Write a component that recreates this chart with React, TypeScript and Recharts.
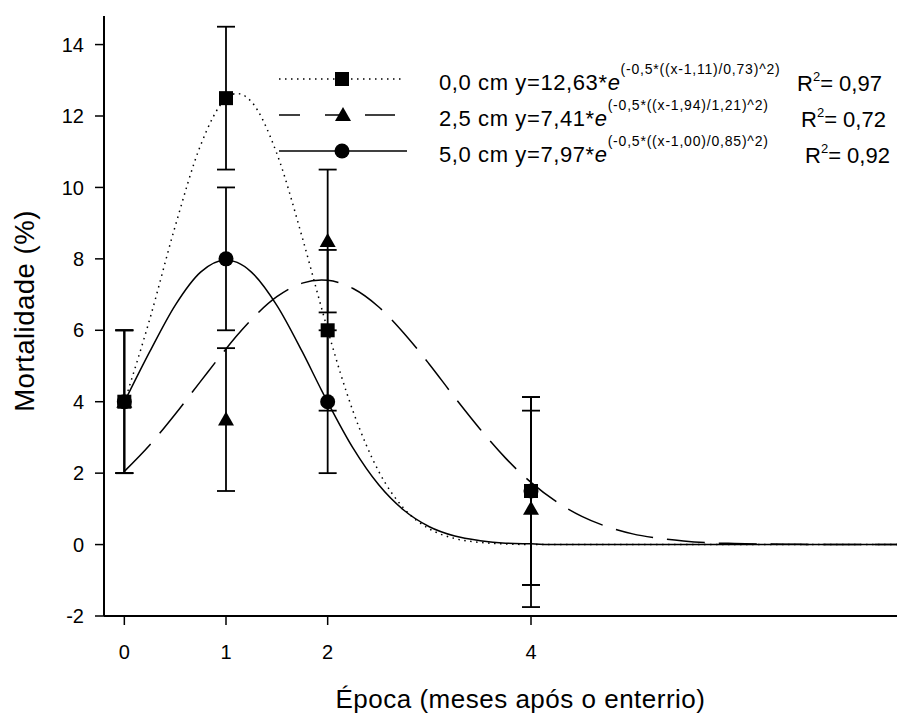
import React from 'react';
import { ComposedChart, Line, Scatter, XAxis, YAxis, ErrorBar } from 'recharts';

// épocas avaliadas (meses após o enterrio)
const epocas = [0, 1, 2, 4];

// mortalidade observada (%) e erro por profundidade
const mort00 = [4, 12.5, 6, 1.5];
const erro00 = [2, 2, 2.25, 2.63];
const mort25 = [4, 3.5, 8.5, 1];
const erro25 = [2, 2, 2, 2.75];
const mort50 = [4, 8, 4, 1.5];
const erro50 = [2, 2, 2, 2.63];

// curvas ajustadas
const curvaX = [0, 0.25, 0.5, 0.75, 1, 1.11, 1.25, 1.5, 1.75, 1.94, 2, 2.25, 2.5, 2.75, 3, 3.25, 3.5, 3.75, 4, 4.25, 4.5, 4.75, 5, 5.25, 5.5, 5.75, 6, 6.5, 7, 7.6];
const curva00 = [3.98, 6.31, 8.91, 11.18, 12.49, 12.63, 12.4, 10.95, 8.6, 6.62, 6.01, 3.73, 2.06, 1.01, 0.44, 0.17, 0.06, 0.02, 0, 0, 0, 0, 0, 0, 0, 0, 0, 0, 0, 0];
const curva25 = [2.05, 2.79, 3.65, 4.57, 5.48, 5.86, 6.3, 6.94, 7.32, 7.41, 7.4, 7.17, 6.66, 5.92, 5.05, 4.12, 3.23, 2.42, 1.74, 1.2, 0.79, 0.5, 0.3, 0.18, 0.1, 0.05, 0.03, 0.01, 0, 0];
const curva50 = [3.99, 5.4, 6.7, 7.63, 7.97, 7.9, 7.63, 6.7, 5.4, 4.32, 3.99, 2.7, 1.68, 0.96, 0.5, 0.24, 0.11, 0.04, 0.02, 0, 0, 0, 0, 0, 0, 0, 0, 0, 0, 0];

const xTicks = [0, 1, 2, 4];
const yTicks = [-2, 0, 2, 4, 6, 8, 10, 12, 14];

// legenda
const nomes = ['0,0 cm', '2,5 cm', '5,0 cm'];
const coefs = ['12,63', '7,41', '7,97'];
const expoentes = ['(-0,5*((x-1,11)/0,73)^2)', '(-0,5*((x-1,94)/1,21)^2)', '(-0,5*((x-1,00)/0,85)^2)'];
const r2 = ['0,97', '0,72', '0,92'];

const FONT = '"Liberation Sans", Arial, Helvetica, sans-serif';

const curveData = curvaX.map((x, i) => ({ x, a: curva00[i], b: curva25[i], c: curva50[i] }));
const pts = (m: number[], e: number[]) => epocas.map((x, i) => ({ x, y: m[i], err: e[i] }));

const Quadrado = (p: any) => <rect x={p.cx - 7} y={p.cy - 7} width={14} height={14} fill="#000" />;
const Circulo = (p: any) => <circle cx={p.cx} cy={p.cy} r={7.5} fill="#000" />;
const Triangulo = (p: any) => (
  <path d={`M${p.cx},${p.cy - 8} L${p.cx + 8},${p.cy + 6} L${p.cx - 8},${p.cy + 6} Z`} fill="#000" />
);

const Legenda = () => {
  const rows = [79, 115, 151];
  const r2x = [797, 801, 805];
  return (
    <svg width={897} height={200} style={{ position: 'absolute', left: 0, top: 0, pointerEvents: 'none' }}>
      {/* amostras de linha */}
      <line x1={279} y1={rows[0]} x2={405} y2={rows[0]} stroke="#000" strokeWidth={1.5} strokeDasharray="1.5 4.5" />
      <Quadrado cx={342} cy={rows[0]} />
      <line x1={279} y1={rows[1]} x2={300} y2={rows[1]} stroke="#000" strokeWidth={1.5} />
      <line x1={325} y1={rows[1]} x2={345} y2={rows[1]} stroke="#000" strokeWidth={1.5} />
      <line x1={365} y1={rows[1]} x2={395} y2={rows[1]} stroke="#000" strokeWidth={1.5} />
      <Triangulo cx={343} cy={rows[1]} />
      <line x1={279} y1={rows[2]} x2={407} y2={rows[2]} stroke="#000" strokeWidth={1.5} />
      <Circulo cx={342} cy={rows[2]} />
      {nomes.map((n, i) => (
        <g key={n} fontFamily={FONT} fill="#000">
          <text x={439} y={rows[i] + 11} fontSize={22} letterSpacing={0.6}>
            {n} y={coefs[i]}*<tspan fontStyle="italic">e</tspan>
            <tspan fontSize={14} dy={-16} letterSpacing={0.8}>{expoentes[i]}</tspan>
          </text>
          <text x={r2x[i]} y={rows[i] + 12} fontSize={22}>
            R<tspan fontSize={13} dy={-10}>2</tspan>
            <tspan dy={10}>= {r2[i]}</tspan>
          </text>
        </g>
      ))}
    </svg>
  );
};

export default function App() {
  const tick = { fill: '#000', fontSize: 20, fontFamily: FONT };
  return (
    <div style={{ position: 'absolute', left: 0, top: 0, width: 897, height: 717, background: '#fff' }}>
      <ComposedChart width={897} height={717} data={curveData} margin={{ top: 16, right: 0, left: 0, bottom: 0 }}>
        <XAxis
          dataKey="x"
          type="number"
          domain={[-0.2, 7.6]}
          ticks={xTicks}
          allowDataOverflow
          height={101}
          tick={tick}
          tickSize={9}
          tickMargin={20}
          axisLine={{ stroke: '#000', strokeWidth: 2 }}
          tickLine={{ stroke: '#000', strokeWidth: 1.5 }}
          label={{
            value: 'Época (meses após o enterrio)',
            position: 'insideBottom',
            offset: 9,
            dx: 20,
            style: { fill: '#000', fontSize: 26, fontFamily: FONT, letterSpacing: 0.5 },
          }}
        />
        <YAxis
          type="number"
          domain={[-2, 14.8]}
          ticks={yTicks}
          allowDataOverflow
          width={104}
          tick={tick}
          tickSize={9}
          tickMargin={11}
          axisLine={{ stroke: '#000', strokeWidth: 2 }}
          tickLine={{ stroke: '#000', strokeWidth: 1.5 }}
          label={{
            value: 'Mortalidade (%)',
            angle: -90,
            position: 'insideLeft',
            offset: 24,
            dy: -5,
            style: { fill: '#000', fontSize: 27.5, fontFamily: FONT, textAnchor: 'middle', letterSpacing: 0.5 },
          }}
        />
        <Line dataKey="a" type="monotone" stroke="#000" strokeWidth={1.5} strokeDasharray="1.5 4.5" dot={false} isAnimationActive={false} />
        <Line dataKey="b" type="monotone" stroke="#000" strokeWidth={1.5} strokeDasharray="38 14" dot={false} isAnimationActive={false} />
        <Line dataKey="c" type="monotone" stroke="#000" strokeWidth={1.5} dot={false} isAnimationActive={false} />
        <Scatter data={pts(mort25, erro25)} dataKey="y" shape={Triangulo} isAnimationActive={false}>
          <ErrorBar dataKey="err" direction="y" width={9} stroke="#000" strokeWidth={1.8} />
        </Scatter>
        <Scatter data={pts(mort50, erro50)} dataKey="y" shape={Circulo} isAnimationActive={false}>
          <ErrorBar dataKey="err" direction="y" width={9} stroke="#000" strokeWidth={1.8} />
        </Scatter>
        <Scatter data={pts(mort00, erro00)} dataKey="y" shape={Quadrado} isAnimationActive={false}>
          <ErrorBar dataKey="err" direction="y" width={9} stroke="#000" strokeWidth={1.8} />
        </Scatter>
      </ComposedChart>
      <Legenda />
    </div>
  );
}
